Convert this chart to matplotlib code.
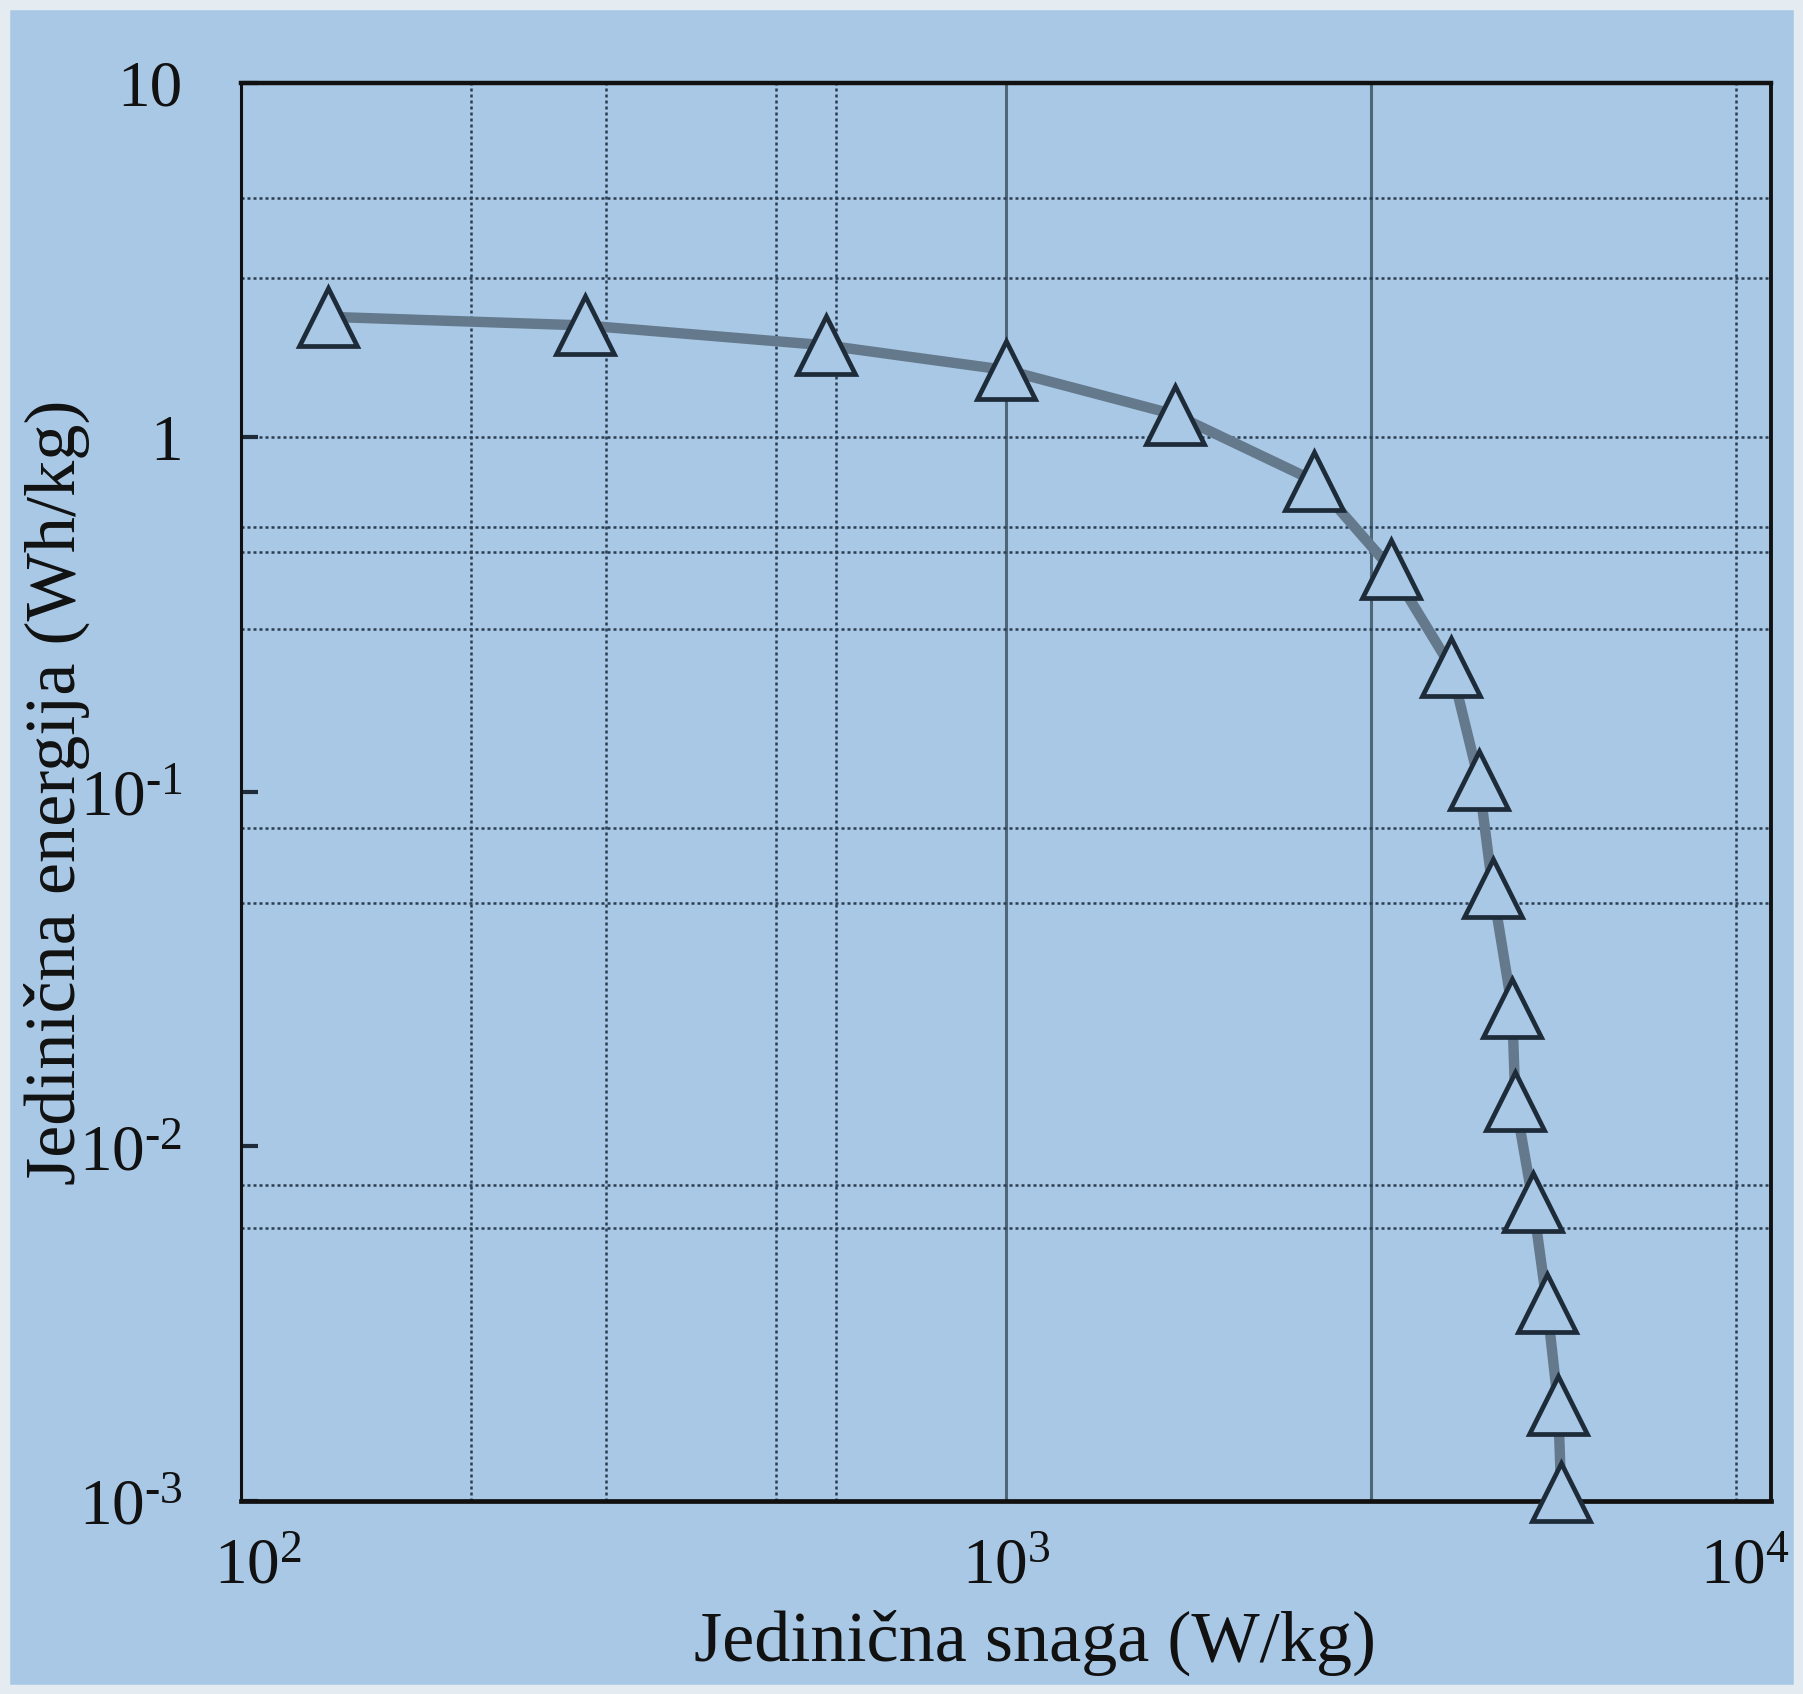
import matplotlib
matplotlib.use("Agg")
import matplotlib.pyplot as plt
from matplotlib.patches import Rectangle
from matplotlib.transforms import ScaledTranslation

plt.rcParams['font.family'] = ['Liberation Serif', 'DejaVu Serif']
plt.rcParams['mathtext.fontset'] = 'custom'
plt.rcParams['mathtext.rm'] = 'Liberation Serif'
plt.rcParams['mathtext.it'] = 'Liberation Serif:italic'

# Data
power = [130, 282, 581, 1000, 1664, 2530, 3191, 3819, 4150, 4326,
         4590, 4633, 4885, 5093, 5271, 5318]          # W/kg
energy = [2.19, 2.07, 1.82, 1.55, 1.16, 0.754, 0.425, 0.225, 0.108, 0.0536,
          0.0245, 0.0134, 0.00697, 0.00361, 0.00186, 0.00106]  # Wh/kg

x_ticks = [1e2, 1e3, 1e4]
x_ticklabels = [r'$10^{2}$', r'$10^{3}$', r'$10^{4}$']
y_ticks = [1e-3, 1e-2, 1e-1, 1, 10]
y_ticklabels = [r'$10^{\text{-}3}$', r'$10^{\text{-}2}$', r'$10^{\text{-}1}$', '1', '10']

x_grid_dotted = [200, 300, 500, 600, 9000]
x_grid_solid = [1000, 3000]
y_grid = [4.74, 2.81, 1.0, 0.56, 0.475, 0.288, 0.079, 0.0487, 0.0078, 0.00587]

xlabel = 'Jedinična snaga (W/kg)'
ylabel = 'Jedinična energija (Wh/kg)'

bg = '#a9c8e6'
dark = '#1e2c3a'

fig = plt.figure(figsize=(18.03, 16.94), dpi=100, facecolor=bg)
ax = fig.add_axes([0.1337, 0.114, 0.8485, 0.837])
ax.set_facecolor(bg)
ax.set_xscale('log')
ax.set_yscale('log')
ax.set_xlim(1e2, 1e4)
ax.set_ylim(1e-3, 10)

for xv in x_grid_dotted:
    ax.axvline(xv, color='#2a3d50', lw=1.8, ls=(0, (1.2, 1.2)), zorder=1)
for xv in x_grid_solid:
    ax.axvline(xv, color='#4f6578', lw=2.2, ls='-', zorder=1)
for yv in y_grid:
    ax.axhline(yv, color='#2a3d50', lw=1.8, ls=(0, (1.2, 1.2)), zorder=1)

ax.plot(power, energy, color='#647a8c', lw=7.5, zorder=2, solid_capstyle='round',
        solid_joinstyle='round')
ax.plot(power, energy, ls='none', marker='^', ms=42, mfc=bg, mec=dark,
        mew=3.4, zorder=3, clip_on=False)

ax.set_xticks(x_ticks)
ax.set_xticklabels(x_ticklabels)
ax.set_yticks(y_ticks)
ax.set_yticklabels(y_ticklabels)
ax.minorticks_off()
ax.tick_params(axis='y', direction='in', length=12, width=3, color=dark,
               labelsize=47, pad=42, labelcolor='#111111')
ax.tick_params(axis='x', direction='in', length=0, labelsize=47, pad=26,
               labelcolor='#111111')

# small horizontal shifts of x tick labels as in the scanned original
x_shifts_px = [17, 0, -26]
for lbl, dx in zip(ax.get_xticklabels(), x_shifts_px):
    lbl.set_transform(lbl.get_transform() +
                      ScaledTranslation(dx / 100, 0, fig.dpi_scale_trans))

for side in ['left', 'right', 'top', 'bottom']:
    ax.spines[side].set_color('#111111')
ax.spines['left'].set_linewidth(2.2)
ax.spines['right'].set_linewidth(2.8)
ax.spines['top'].set_linewidth(3.2)
ax.spines['bottom'].set_linewidth(3.4)

ax.set_ylabel(ylabel, fontsize=52, color='#111111', labelpad=20)
ax.yaxis.set_label_coords(-0.099, 0.5)
fig.text(0.574, 0.03, xlabel, fontsize=52, color='#111111',
         ha='center', va='center')

# light scan border
fig.patches.append(Rectangle((0, 0), 1, 1, transform=fig.transFigure,
                             fill=False, ec='#e4ecf2', lw=14))

fig.savefig('out.png', dpi=100, facecolor=bg)
